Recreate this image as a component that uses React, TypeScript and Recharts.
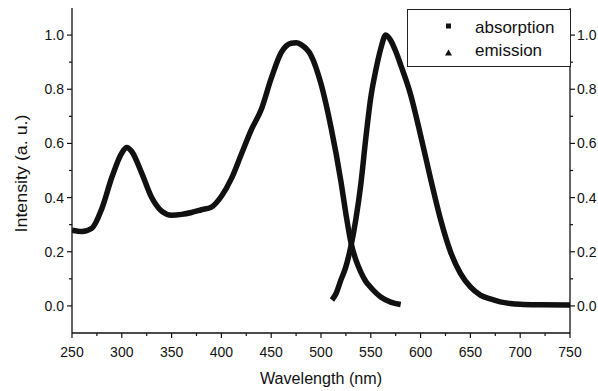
import React from 'react';
import { ComposedChart, Line, XAxis, YAxis } from 'recharts';

const absX = [250, 260, 270, 280, 290, 300, 305, 310, 320, 330, 340, 350, 360, 370, 380, 390, 400, 410, 420, 430, 440, 450, 460, 470, 475, 480, 490, 500, 510, 520, 525, 530, 535, 540, 545, 550, 560, 570, 580];
const absY = [0.28, 0.275, 0.287, 0.36, 0.475, 0.565, 0.585, 0.57, 0.49, 0.4, 0.35, 0.335, 0.338, 0.345, 0.355, 0.365, 0.405, 0.47, 0.56, 0.65, 0.725, 0.84, 0.935, 0.97, 0.972, 0.965, 0.925, 0.82, 0.66, 0.46, 0.34, 0.235, 0.17, 0.125, 0.09, 0.068, 0.033, 0.014, 0.005];

const emiX = [511, 515, 520, 525, 530, 535, 540, 545, 550, 555, 560, 565, 570, 575, 580, 590, 600, 610, 620, 630, 640, 650, 660, 670, 680, 690, 700, 720, 750];
const emiY = [0.022, 0.045, 0.096, 0.145, 0.22, 0.32, 0.45, 0.62, 0.77, 0.87, 0.95, 1.0, 0.98, 0.94, 0.89, 0.78, 0.63, 0.47, 0.32, 0.2, 0.12, 0.07, 0.04, 0.026, 0.015, 0.009, 0.006, 0.004, 0.003];

const xTicks = [250, 275, 300, 325, 350, 375, 400, 425, 450, 475, 500, 525, 550, 575, 600, 625, 650, 675, 700, 725, 750];
const yTicks = [0, 0.1, 0.2, 0.3, 0.4, 0.5, 0.6, 0.7, 0.8, 0.9, 1.0];

const absorption = absX.map((x, i) => ({ x, y: absY[i] }));
const emission = emiX.map((x, i) => ({ x, y: emiY[i] }));

const FONT = '"Liberation Sans", Arial, sans-serif';
const INK = '#111';

const isMajorY = (v: number) => Math.round(v * 10) % 2 === 0;

const XTick = (props: any) => {
  const { x, y, payload } = props;
  const v = payload.value;
  const major = v % 50 === 0;
  return (
    <g>
      <line x1={x} x2={x} y1={y} y2={y + (major ? 5 : 3)} stroke={INK} strokeWidth={1.2} />
      {major && (
        <text x={x} y={y + 24} textAnchor="middle" fontSize={14} fontFamily={FONT} fill={INK}>
          {v}
        </text>
      )}
    </g>
  );
};

const LeftTick = (props: any) => {
  const { x, y, payload } = props;
  const v = payload.value;
  const major = isMajorY(v);
  return (
    <g>
      <line x1={x} x2={x - (major ? 5 : 3)} y1={y} y2={y} stroke={INK} strokeWidth={1.2} />
      {major && (
        <text x={x - 8} y={y + 5} textAnchor="end" fontSize={14} fontFamily={FONT} fill={INK}>
          {v.toFixed(1)}
        </text>
      )}
    </g>
  );
};

const RightTick = (props: any) => {
  const { x, y, payload } = props;
  const v = payload.value;
  const major = isMajorY(v);
  return (
    <g>
      <line x1={x} x2={x + (major ? 5 : 3)} y1={y} y2={y} stroke={INK} strokeWidth={1.2} />
      {major && (
        <text x={x + 7} y={y + 5} textAnchor="start" fontSize={14} fontFamily={FONT} fill={INK}>
          {v.toFixed(1)}
        </text>
      )}
    </g>
  );
};

const XLabel = (props: any) => {
  const vb = props.viewBox || { x: 72, y: 333, width: 498 };
  return (
    <text
      x={vb.x + vb.width / 2}
      y={vb.y + 51}
      textAnchor="middle"
      fontSize={16}
      fontFamily={FONT}
      fill={INK}
      textLength={122}
      lengthAdjust="spacingAndGlyphs"
    >
      Wavelength (nm)
    </text>
  );
};

const YLabel = (props: any) => {
  const vb = props.viewBox || { x: 0, y: 8, height: 325 };
  const cx = 27;
  const cy = vb.y + vb.height / 2 + 3;
  return (
    <text
      x={cx}
      y={cy}
      transform={`rotate(-90 ${cx} ${cy})`}
      textAnchor="middle"
      fontSize={16.5}
      fontFamily={FONT}
      fill={INK}
      textLength={118}
      lengthAdjust="spacingAndGlyphs"
    >
      Intensity (a. u.)
    </text>
  );
};

const LegendBox = () => (
  <div
    style={{
      position: 'absolute',
      left: 407,
      top: 9,
      width: 164,
      height: 58,
      border: '1px solid #222',
      boxSizing: 'border-box',
      background: '#fff',
    }}
  >
    <svg width={162} height={56} style={{ position: 'absolute', left: 0, top: 0 }}>
      <rect x={38} y={13.5} width={5} height={5} fill={INK} />
      <polygon points="40.5,39.5 37,45.5 44,45.5" fill={INK} />
      <text x={67} y={23} fontSize={17} fontFamily={FONT} fill={INK}>absorption</text>
      <text x={67} y={46} fontSize={17} fontFamily={FONT} fill={INK}>emission</text>
    </svg>
  </div>
);

export default function App() {
  return (
    <div style={{ position: 'absolute', left: 0, top: 0, width: 598, height: 391, background: '#fff' }}>
      <ComposedChart width={598} height={391} margin={{ top: 8, right: 0, bottom: 0, left: 0 }}>
        <XAxis
          xAxisId="b"
          dataKey="x"
          type="number"
          domain={[250, 750]}
          ticks={xTicks}
          interval={0}
          tickSize={0}
          tickMargin={0}
          tickLine={false}
          tick={<XTick />}
          height={58}
          axisLine={{ stroke: INK, strokeWidth: 1.3 }}
          allowDataOverflow
          label={<XLabel />}
        />
        <XAxis
          xAxisId="t"
          orientation="top"
          dataKey="x"
          type="number"
          domain={[250, 750]}
          tick={false}
          tickLine={false}
          height={0}
          axisLine={{ stroke: INK, strokeWidth: 1.2 }}
        />
        <YAxis
          yAxisId="l"
          type="number"
          domain={[-0.1, 1.1]}
          ticks={yTicks}
          interval={0}
          tickSize={0}
          tickMargin={0}
          tickLine={false}
          tick={<LeftTick />}
          width={72}
          axisLine={{ stroke: INK, strokeWidth: 1.3 }}
          allowDataOverflow
          label={<YLabel />}
        />
        <YAxis
          yAxisId="r"
          orientation="right"
          type="number"
          domain={[-0.1, 1.1]}
          ticks={yTicks}
          interval={0}
          tickSize={0}
          tickMargin={0}
          tickLine={false}
          tick={<RightTick />}
          width={28}
          axisLine={{ stroke: INK, strokeWidth: 1.3 }}
          allowDataOverflow
        />
        <Line
          xAxisId="b"
          yAxisId="l"
          data={absorption}
          dataKey="y"
          type="monotone"
          stroke={INK}
          strokeWidth={5.5}
          dot={false}
          isAnimationActive={false}
          name="absorption"
        />
        <Line
          xAxisId="b"
          yAxisId="l"
          data={emission}
          dataKey="y"
          type="monotone"
          stroke={INK}
          strokeWidth={5.5}
          dot={false}
          isAnimationActive={false}
          name="emission"
        />
      </ComposedChart>
      <LegendBox />
    </div>
  );
}
